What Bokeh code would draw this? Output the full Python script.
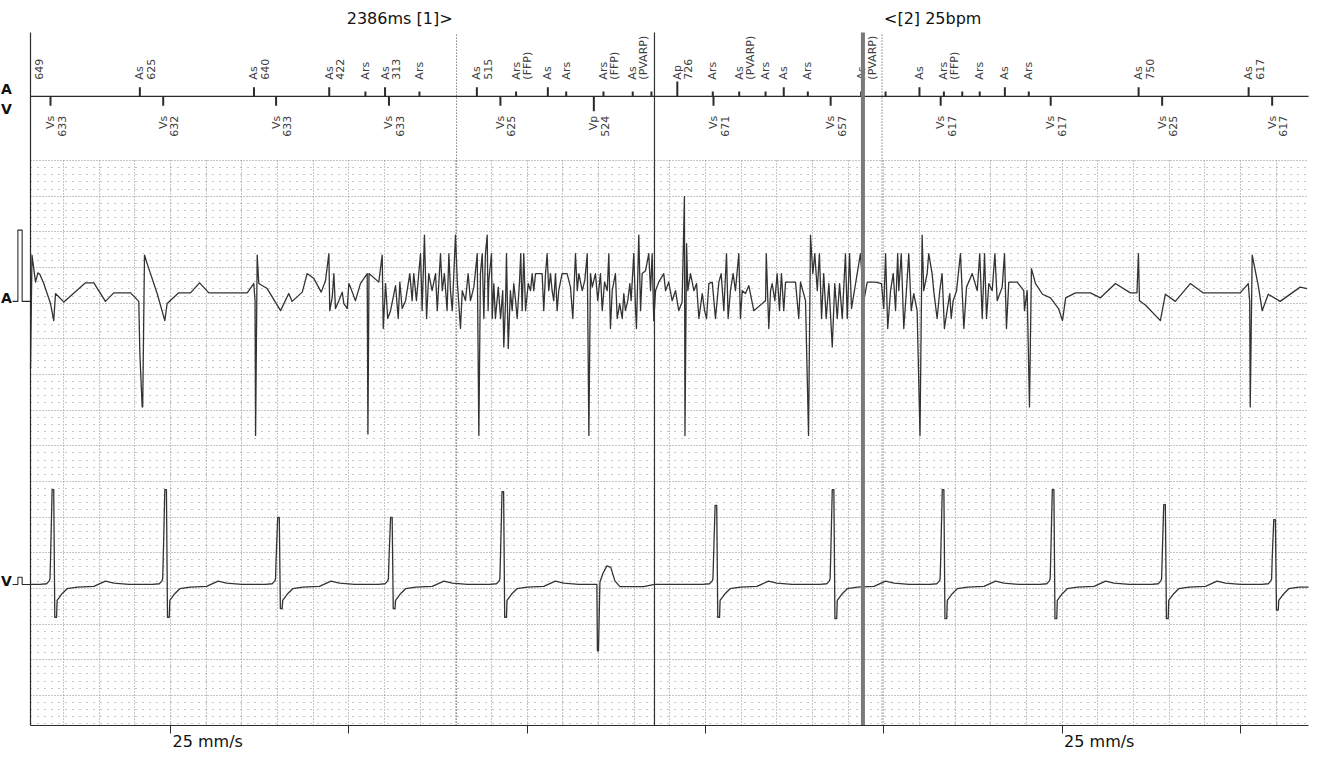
import numpy as np
from bokeh.plotting import figure
from bokeh.models import Range1d, LinearAxis, FixedTicker, Grid
from bokeh.core.properties import value
from bokeh.embed import file_html
from bokeh.resources import INLINE

# ------------------------------------------------------------------ data ----
# time in ms (paper speed 25 mm/s)
X_START = 215
X_END = 7382
second_ticks = [1000, 2000, 3000, 4000, 5000, 6000, 7000]
speed_label_ticks = [1000, 6000]
speed_label = "25 mm/s"

# calipers and cursors (ms)
caliper_1 = 2604
caliper_interval = 2386
cursor_solid = 3714
cursor_bold = 4883

# atrial marker channel
a_mark_t = [203, 828, 1468, 1890, 2093, 2203, 2396, 2718, 2938, 3116,
            3219, 3428, 3592, 3697, 3842, 4041, 4189, 4337, 4439, 4574,
            4873, 5010, 5200, 5337, 5440, 5538, 5679, 5813, 6429, 7046]
a_mark_type = ["As", "As", "As", "As", "Ars", "As", "Ars", "As", "Ars", "As",
               "Ars", "Ars", "As", "", "Ap", "Ars", "As", "Ars", "As", "Ars",
               "As", "", "As", "Ars", "", "Ars", "As", "Ars", "As", "As"]
a_mark_note = ["649", "625", "640", "422", "", "313", "", "515", "(FFP)", "",
               "", "(FFP)", "(PVARP)", "", "726", "", "(PVARP)", "", "", "",
               "(PVARP)", "", "", "(FFP)", "", "", "", "", "750", "617"]

# ventricular marker channel
v_first_t = 327
v_mark_type = ["Vs", "Vs", "Vs", "Vs", "Vs", "Vp", "Vs", "Vs", "Vs", "Vs", "Vs", "Vs"]
v_interval = [633, 632, 633, 633, 625, 524, 671, 657, 617, 617, 625, 617]
v_r_mv = [13.3, 13.3, 9.4, 9.4, 13.0, None, 11.1, 13.3, 13.3, 13.3, 11.2, 9.1]
v_s_mv = [-4.6, -4.6, -3.4, -3.4, -4.6, None, -4.6, -4.8, -4.8, -4.8, -4.8, -3.6]

# ventricular EGM complexes (ms from marker, mV); R / S are per beat
v_sensed_dt = [-60, -22, -8, -3, 0, 9, 18, 24, 34, 37, 65, 93, 150, 243, 308, 355, 440]
v_sensed_mv = [0, 0.1, 0.46, 0.8, 3.5, "R", "R", "S", "S", -2.24, -1.3, -0.6, -0.38, -0.28, 0.46, 0.18, 0]
v_paced_dt = [-60, 17, 20, 26, 34, 50, 73, 95, 118, 146, 280, 340]
v_paced_mv = [0, 0, -9.3, -9.3, 0.3, 1.5, 2.6, 2.4, 0.5, -0.3, -0.3, 0]

# atrial EGM (ms, mV)
a_egm_t = [
    215, 223, 233, 243, 256, 267, 289, 327, 345, 355,
    402, 523, 570, 635, 682, 776, 822, 828, 841, 844,
    854, 869, 925, 968, 981, 1046, 1112, 1163, 1215, 1430,
    1467, 1474, 1477, 1486, 1495, 1542, 1617, 1663, 1682, 1739,
    1766, 1804, 1845, 1869, 1888, 1893, 1907, 1916, 1925, 1944,
    1963, 1972, 1991, 2000, 2009, 2037, 2065, 2103, 2107, 2113,
    2168, 2187, 2193, 2206, 2218, 2234, 2262, 2277, 2286, 2299,
    2318, 2342, 2355, 2364, 2379, 2392, 2402, 2411, 2424, 2436,
    2448, 2467, 2486, 2496, 2514, 2524, 2536, 2551, 2561, 2570,
    2580, 2598, 2608, 2626, 2636, 2654, 2669, 2682, 2701, 2720,
    2729, 2738, 2748, 2757, 2766, 2776, 2781, 2785, 2800, 2804,
    2813, 2822, 2838, 2851, 2863, 2869, 2879, 2884, 2894, 2906,
    2916, 2925, 2935, 2944, 2957, 2964, 2972, 2981, 2991, 3006,
    3019, 3028, 3037, 3047, 3084, 3093, 3103, 3112, 3121, 3131,
    3140, 3149, 3159, 3168, 3177, 3196, 3224, 3243, 3256, 3271,
    3281, 3290, 3309, 3323, 3337, 3346, 3355, 3365, 3383, 3396,
    3411, 3421, 3434, 3449, 3458, 3467, 3477, 3495, 3505, 3519,
    3533, 3542, 3551, 3564, 3576, 3583, 3598, 3608, 3613, 3626,
    3636, 3645, 3664, 3682, 3692, 3701, 3710, 3720, 3738, 3766,
    3776, 3794, 3813, 3832, 3850, 3869, 3882, 3885, 3894, 3901,
    3916, 3935, 3950, 3963, 3982, 3995, 4006, 4019, 4038, 4056,
    4075, 4088, 4103, 4118, 4127, 4140, 4155, 4168, 4187, 4196,
    4206, 4224, 4243, 4271, 4337, 4341, 4355, 4365, 4374, 4389,
    4402, 4415, 4426, 4439, 4449, 4505, 4523, 4533, 4561, 4578,
    4589, 4602, 4613, 4627, 4639, 4651, 4663, 4677, 4692, 4711,
    4725, 4739, 4752, 4767, 4785, 4795, 4808, 4819, 4869, 4888,
    4907, 4954, 4987, 5000, 5010, 5022, 5038, 5053, 5066, 5078,
    5084, 5098, 5112, 5127, 5140, 5154, 5168, 5187, 5203, 5215,
    5224, 5243, 5252, 5271, 5280, 5299, 5314, 5327, 5340, 5355,
    5370, 5378, 5389, 5408, 5430, 5449, 5464, 5496, 5524, 5538,
    5552, 5565, 5576, 5589, 5608, 5623, 5636, 5664, 5677, 5688,
    5701, 5748, 5785, 5789, 5804, 5817, 5828, 5851, 5890, 5935,
    5980, 6002, 6020, 6075, 6159, 6215, 6299, 6383, 6420, 6428,
    6434, 6467, 6551, 6579, 6635, 6719, 6790, 6999, 7044, 7052,
    7055, 7066, 7100, 7122, 7156, 7223, 7335, 7374,
]
a_egm_mv = [
    -0.94, 0.65, 0.46, 0.27, 0.40, 0.38, 0.25, -0.03, -0.27, 0.11,
    -0.01, 0.26, 0.26, 0.00, 0.12, 0.12, 0.00, -0.73, -1.48, -1.48,
    0.65, 0.53, 0.11, -0.27, -0.03, 0.12, 0.12, 0.26, 0.12, 0.12,
    0.25, 0.01, -1.88, 0.65, 0.25, 0.18, -0.13, 0.11, 0.00, 0.13,
    0.39, 0.32, 0.13, 0.29, 0.67, -0.13, 0.06, 0.39, -0.10, 0.01,
    0.13, -0.03, -0.10, 0.25, 0.20, 0.01, 0.25, 0.39, -1.86, 0.39,
    0.27, 0.65, -0.38, 0.25, -0.24, -0.13, 0.22, -0.24, 0.27, -0.10,
    0.01, 0.39, 0.01, 0.39, 0.01, 0.39, 0.67, -0.13, 0.93, -0.24,
    0.39, 0.15, 0.39, -0.13, 0.67, 0.15, 0.39, -0.13, 0.67, 0.15,
    -0.13, 0.93, 0.29, -0.38, 0.15, 0.01, 0.39, 0.01, 0.20, 0.67,
    -1.88, 0.39, 0.67, -0.24, 0.67, 0.93, -0.13, 0.29, 0.67, -0.24,
    0.25, -0.24, 0.20, -0.24, 0.15, -0.64, 0.01, 0.67, -0.66, 0.15,
    -0.13, 0.25, 0.01, -0.24, 0.27, 0.67, -0.13, 0.67, -0.13, 0.25,
    0.15, 0.39, 0.15, 0.39, 0.39, -0.13, 0.39, 0.67, 0.15, 0.39,
    0.15, 0.01, 0.39, -0.13, 0.15, 0.39, 0.39, 0.20, -0.24, 0.67,
    0.15, 0.39, 0.15, 0.29, 0.67, -1.88, 0.39, 0.20, 0.39, 0.01,
    0.39, -0.13, 0.27, 0.15, 0.67, -0.38, 0.15, 0.39, -0.24, -0.03,
    -0.24, 0.11, -0.13, 0.01, 0.25, 0.01, 0.67, -0.13, -0.38, 0.93,
    -0.13, 0.39, 0.43, 0.67, 0.15, 0.67, -0.27, 0.15, 0.27, 0.39,
    0.15, 0.27, 0.01, 0.15, -0.13, -0.01, 1.47, -1.88, 0.81, 0.15,
    0.39, 0.15, 0.25, -0.24, 0.11, -0.13, -0.24, 0.25, 0.27, -0.24,
    0.27, 0.39, -0.13, 0.67, -0.24, 0.15, 0.39, 0.15, 0.67, -0.24,
    0.15, 0.11, 0.22, -0.13, 0.01, 0.67, -0.38, 0.15, 0.25, 0.01,
    0.39, -0.13, 0.39, -0.13, 0.27, 0.27, -0.24, 0.27, 0.01, -1.88,
    0.93, 0.39, 0.67, 0.15, 0.67, -0.24, 0.39, -0.24, 0.25, -0.64,
    0.25, -0.24, 0.25, -0.24, 0.67, -0.24, 0.67, -0.10, 0.67, 0.01,
    0.27, 0.27, 0.25, -0.10, 0.67, -0.38, 0.15, 0.39, -0.13, 0.67,
    0.15, 0.67, -0.38, 0.15, 0.67, -0.13, 0.11, -0.13, -1.88, 0.93,
    0.15, 0.39, 0.67, 0.39, 0.15, -0.24, 0.15, 0.39, -0.38, -0.13,
    0.11, -0.24, 0.01, 0.15, 0.67, -0.38, 0.20, 0.39, 0.15, 0.67,
    -0.24, 0.67, -0.24, 0.25, 0.15, 0.67, 0.01, 0.20, 0.67, -0.38,
    0.27, 0.27, 0.15, -0.13, 0.15, -1.48, 0.46, 0.25, 0.10, 0.05,
    -0.10, -0.27, 0.05, 0.12, 0.12, 0.05, 0.25, 0.12, 0.12, 0.67,
    0.01, -0.05, -0.27, 0.10, 0.00, 0.25, 0.12, 0.12, 0.25, 0.00,
    -1.48, 0.65, 0.22, -0.13, 0.10, 0.00, 0.20, 0.18,
]
assert len(a_egm_t) == len(a_egm_mv)

cal_a_mv = 1.0
cal_v_mv = 1.0

# ---------------------------------------------------------------- layout ----
W, H = 1326, 760
MS_PER_PX, UNIT_PX = 5.608, 35.65
X_LO = 46.5
X_HI = X_LO + W * MS_PER_PX
Y_HI = 19.49
Y_LO = Y_HI - H / UNIT_PX
Y_AXIS = -0.85
Y_GRID_TOP = 15.05
Y_TOP = 18.59
Y_MARKER = 16.80
Y_ALABEL = 17.27
Y_VLABEL = 16.26
Y_TITLE = 18.98
A_BASE, A_GAIN = 11.05, 2.0
V_BASE, V_GAIN = 3.11, 0.2
LINE_GAP = 62                       # ms between label lines
TICK_SENSE, TICK_REFR, TICK_PACE = 0.26, 0.14, 0.42
CAL_LEAD, CAL_UP, CAL_DOWN = 114, 144, 168
LEFT_TEXT_X = 50
FONT = value("DejaVu Sans")
INK = "#2b2b2b"
TRACE = "#333333"
GRID = "#8c8c8c"

p = figure(width=W, height=H, x_range=Range1d(X_LO, X_HI), y_range=Range1d(Y_LO, Y_HI),
           x_axis_type=None, y_axis_type=None, toolbar_location=None,
           output_backend="svg", min_border=0, title=None)
p.outline_line_color = None
p.background_fill_color = "white"
p.border_fill_color = "white"

# grid (paper): large squares 200 ms x 1 unit, small 40 ms x 0.2 unit
major_x = [t for t in range(200, X_END, 200) if t > X_START]
xgrid = Grid(dimension=0, ticker=FixedTicker(ticks=major_x),
             bounds=(X_START, X_END), cross_bounds=(Y_AXIS, Y_GRID_TOP),
             grid_line_color=GRID, grid_line_dash="1 2", grid_line_width=1)
major_y = list(range(0, 16))
minor_y = [round(k * 0.2, 2) for k in range(-4, 76) if k % 5 != 0]
ygrid = Grid(dimension=1, ticker=FixedTicker(ticks=major_y, minor_ticks=minor_y),
             bounds=(Y_AXIS, Y_GRID_TOP), cross_bounds=(X_START, X_END),
             grid_line_color=GRID, grid_line_dash="1 2", grid_line_width=1,
             minor_grid_line_color=GRID, minor_grid_line_dash="1 6",
             minor_grid_line_width=1)
p.add_layout(xgrid)
p.add_layout(ygrid)

# axes
xaxis = LinearAxis(fixed_location=Y_AXIS, bounds=(X_START, X_END),
                   ticker=FixedTicker(ticks=second_ticks),
                   major_tick_in=0, major_tick_out=8,
                   major_label_overrides={t: "" for t in second_ticks},
                   axis_line_color=INK, major_tick_line_color=INK,
                   minor_tick_line_color=None, axis_line_width=1.2)
p.add_layout(xaxis, "below")
yaxis = LinearAxis(fixed_location=X_START, bounds=(Y_AXIS, Y_TOP),
                   ticker=FixedTicker(ticks=[]), major_tick_line_color=None,
                   minor_tick_line_color=None, axis_line_color=INK, axis_line_width=1.2)
p.add_layout(yaxis, "left")

p.text(x=speed_label_ticks, y=[Y_AXIS] * len(speed_label_ticks),
       text=[speed_label] * len(speed_label_ticks), x_offset=2, y_offset=6,
       text_align="left", text_baseline="top", text_font=FONT,
       text_font_size="16px", text_color="#111111")

# ---- marker channel ----
p.line(x=[X_START, X_END], y=[Y_MARKER, Y_MARKER], line_color=INK, line_width=1.3)


def a_tick(kind, note):
    if kind == "Ap":
        return TICK_PACE
    if kind == "As" and note != "(PVARP)":
        return TICK_SENSE
    return TICK_REFR


at = [(t, a_tick(k, n)) for t, k, n in zip(a_mark_t, a_mark_type, a_mark_note) if t >= X_START]
p.segment(x0=[t for t, _ in at], y0=[Y_MARKER] * len(at), x1=[t for t, _ in at],
          y1=[Y_MARKER + L for _, L in at], line_color=INK, line_width=2)

l1 = [(t, k) for t, k in zip(a_mark_t, a_mark_type) if k and t >= X_START]
l2 = [(t + LINE_GAP, n) for t, n in zip(a_mark_t, a_mark_note) if n and t + LINE_GAP >= X_START]
for items in (l1, l2):
    p.text(x=[t for t, _ in items], y=[Y_ALABEL] * len(items), text=[s for _, s in items],
           angle=np.pi / 2, text_align="left", text_baseline="middle",
           text_font=FONT, text_font_size="11px", text_color="#3c3c3c")

v_mark_t = [v_first_t]
for iv in v_interval[1:]:
    v_mark_t.append(v_mark_t[-1] + iv)

v_len = [TICK_PACE if k == "Vp" else TICK_SENSE for k in v_mark_type]
p.segment(x0=v_mark_t, y0=[Y_MARKER] * len(v_mark_t), x1=v_mark_t,
          y1=[Y_MARKER - L for L in v_len], line_color=INK, line_width=2)
p.text(x=v_mark_t, y=[Y_VLABEL] * len(v_mark_t), text=v_mark_type,
       angle=np.pi / 2, text_align="right", text_baseline="middle",
       text_font=FONT, text_font_size="11px", text_color="#3c3c3c")
p.text(x=[t + LINE_GAP for t in v_mark_t], y=[Y_VLABEL] * len(v_mark_t),
       text=[str(iv) for iv in v_interval],
       angle=np.pi / 2, text_align="right", text_baseline="middle",
       text_font=FONT, text_font_size="11px", text_color="#3c3c3c")

p.text(x=[LEFT_TEXT_X, LEFT_TEXT_X], y=[Y_MARKER + 0.22, Y_MARKER - 0.34], text=["A", "V"],
       text_align="left", text_baseline="middle", text_font=FONT,
       text_font_size="14px", text_font_style="bold", text_color="#111111")

# ---- atrial EGM ----
a_y = [A_BASE + mv * A_GAIN for mv in a_egm_mv]
p.line(x=a_egm_t, y=a_y, line_color=TRACE, line_width=1.3, line_join="round")

# ---- ventricular EGM ----
vt, vv = [X_START], [0.0]
for t0, kind, r, s in zip(v_mark_t, v_mark_type, v_r_mv, v_s_mv):
    if kind == "Vp":
        dts, mvs = v_paced_dt, v_paced_mv
    else:
        dts = v_sensed_dt
        mvs = [r if m == "R" else s if m == "S" else m for m in v_sensed_mv]
    for dt, mv in zip(dts, mvs):
        if X_START <= t0 + dt <= X_END:
            vt.append(t0 + dt)
            vv.append(mv)
if vt[-1] < X_END:
    vt.append(X_END)
    vv.append(vv[-1])
p.line(x=vt, y=[V_BASE + mv * V_GAIN for mv in vv], line_color=TRACE, line_width=1.3,
       line_join="round")

# ---- channel labels and calibration pulses ----
for base, gain, cal, name in ((A_BASE, A_GAIN, cal_a_mv, "A"), (V_BASE, V_GAIN, cal_v_mv, "V")):
    p.line(x=[CAL_LEAD, CAL_UP, CAL_UP, CAL_DOWN, CAL_DOWN, X_START],
           y=[base, base, base + cal * gain, base + cal * gain, base, base],
           line_color=INK, line_width=1.1)
    p.text(x=[LEFT_TEXT_X], y=[base + 0.1], text=[name], text_align="left",
           text_baseline="middle", text_font=FONT, text_font_size="14px",
           text_font_style="bold", text_color="#111111")

# ---- calipers and cursors ----
caliper_2 = caliper_1 + caliper_interval
p.segment(x0=[caliper_1, caliper_2], y0=[Y_AXIS, Y_AXIS], x1=[caliper_1, caliper_2],
          y1=[Y_TOP, Y_TOP], line_color="#444444", line_width=1, line_dash="1 2")
p.segment(x0=[cursor_solid], y0=[Y_AXIS], x1=[cursor_solid], y1=[Y_TOP],
          line_color="#333333", line_width=1.2)
p.segment(x0=[cursor_bold], y0=[Y_AXIS], x1=[cursor_bold], y1=[Y_TOP],
          line_color="#7a7a7a", line_width=4)

bpm = round(60000 / caliper_interval)
p.text(x=[caliper_1], y=[Y_TITLE], text=[f"{caliper_interval}ms [1]>"], x_offset=-4,
       text_align="right", text_baseline="middle", text_font=FONT,
       text_font_size="16px", text_color="#111111")
p.text(x=[caliper_2], y=[Y_TITLE], text=[f"<[2] {bpm}bpm"], x_offset=2,
       text_align="left", text_baseline="middle", text_font=FONT,
       text_font_size="16px", text_color="#111111")

open("out.html", "w").write(file_html(p, INLINE))
